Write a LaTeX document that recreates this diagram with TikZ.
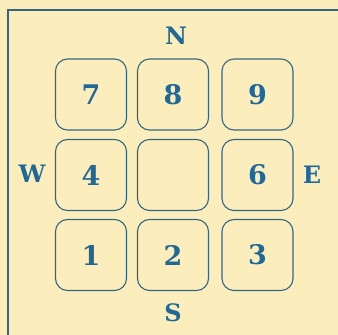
\documentclass[tikz,border=0pt]{standalone}
\usepackage{fontspec}
\setmainfont{DejaVu Serif}
\usepackage{xcolor}
\definecolor{paper}{RGB}{252,238,188}
\definecolor{ink}{RGB}{32,104,152}
\definecolor{rim}{RGB}{52,102,130}

\begin{document}
\begin{tikzpicture}[
    x=1pt, y=-1pt,
    key/.style={rectangle, draw=rim, line width=1.1pt, rounded corners=12pt, minimum width=71pt, minimum height=71pt, inner sep=0pt, text=ink, font=\fontsize{27}{30}\selectfont\bfseries},
    wind/.style={text=ink, inner sep=0pt, font=\fontsize{24}{28}\selectfont\bfseries}
]
    % Paper
    \fill[paper] (0,0) rectangle (338,335);
    \useasboundingbox (0,0) rectangle (338,335);
    \coordinate (corner) at (8,10);
    \coordinate (topend) at (338,10);
    \coordinate (leftend) at (8,335);
    \draw[rim, line width=1.1pt] (topend) -- (corner) -- (leftend);

    % Keypad
    \node[key] (k7) at (91,94.5) {7};
    \node[key] (k8) at (173,94.5) {8};
    \node[key] (k9) at (257.5,94.5) {9};
    \node[key] (k4) at (91,175) {4};
    \node[key] (k5) at (173,175) {};
    \node[key] (k6) at (257.5,175) {6};
    \node[key] (k1) at (91,255) {1};
    \node[key] (k2) at (173,255) {2};
    \node[key] (k3) at (257.5,255) {3};

    % Directions
    \node[wind] (north) at (176,36) {N};
    \node[wind] (south) at (173,313) {S};
    \node[wind] (west) at (32,174) {W};
    \node[wind] (east) at (312,175) {E};
\end{tikzpicture}
\end{document}
